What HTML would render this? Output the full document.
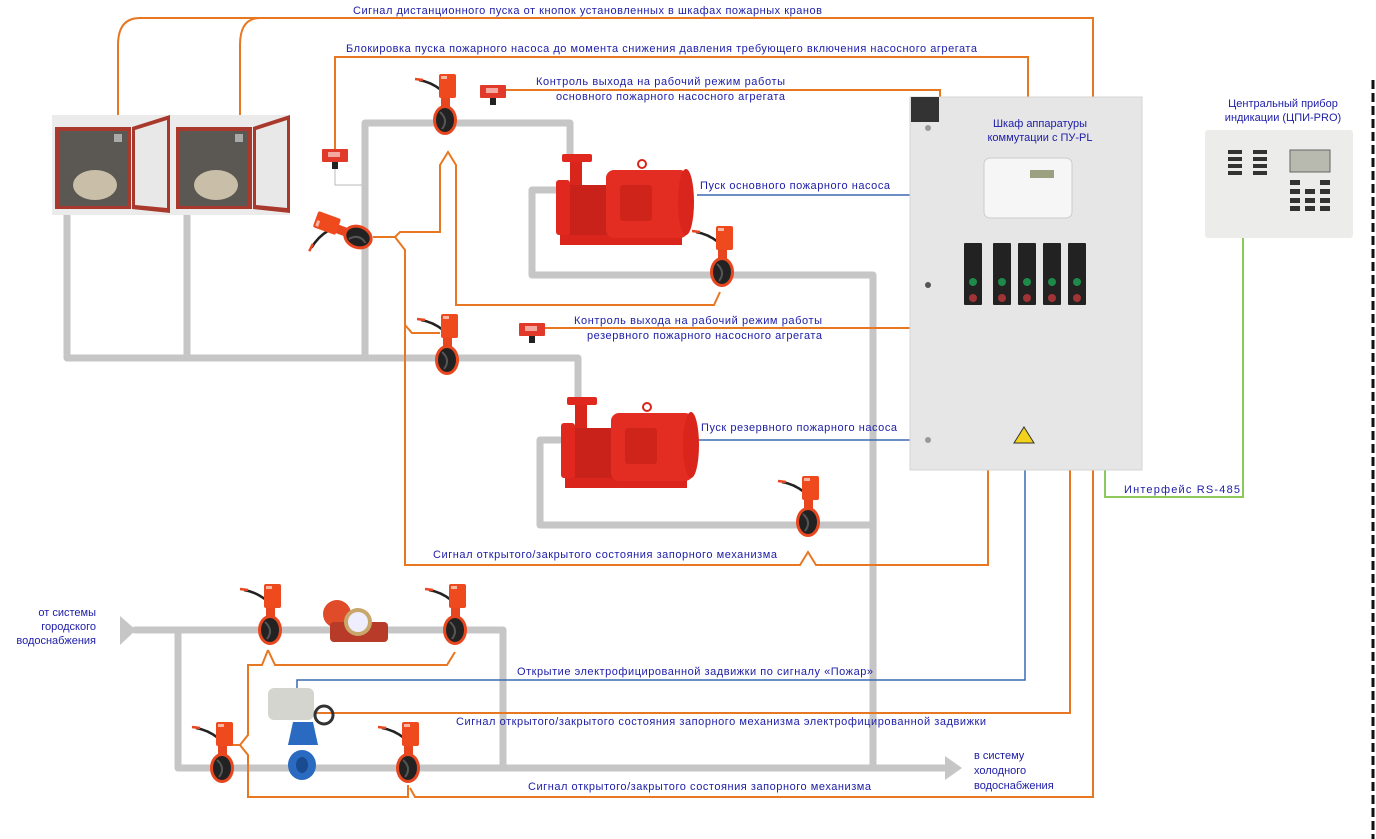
<!DOCTYPE html>
<html><head><meta charset="utf-8"><style>
html,body{margin:0;padding:0;background:#fff;}
svg{display:block;}
text{font-family:"Liberation Sans",sans-serif;font-size:11px;fill:#1c1ca8;}
</style></head><body>
<svg width="1376" height="839" viewBox="0 0 1376 839" xmlns="http://www.w3.org/2000/svg">
<defs>
<g id="v">
 <path d="M-4,-30 Q-14,-38 -26,-40" stroke="#222" stroke-width="2.5" fill="none"/>
 <path d="M-22,-40 L-30,-41" stroke="#e8461e" stroke-width="2.5"/>
 <rect x="-4" y="-24" width="9" height="12" fill="#e8461e"/>
 <rect x="-6" y="-46" width="17" height="24" rx="2" fill="#ee4a1e"/>
 <rect x="-4" y="-44" width="6" height="3" fill="#fff" opacity=".6"/>
 <ellipse cx="0" cy="0" rx="12" ry="15" fill="#e8461e"/>
 <ellipse cx="0" cy="0" rx="9" ry="12" fill="#222"/>
 <path d="M-5,-8 Q4,0 -3,9" stroke="#555" stroke-width="2" fill="none"/>
</g>
<g id="sens">
 <rect x="-13" y="-6" width="26" height="13" rx="1" fill="#e23a2a"/>
 <rect x="-7" y="-3" width="12" height="5" fill="#f4a8a0"/>
 <rect x="-3" y="7" width="6" height="7" fill="#222"/>
</g>
<g id="pump">
 <rect x="4" y="80" width="122" height="15" fill="#d9251b"/>
 <rect x="0" y="30" width="14" height="55" rx="3" fill="#e0281f"/>
 <rect x="14" y="10" width="12" height="30" fill="#d8261c"/>
 <rect x="6" y="4" width="30" height="8" rx="2" fill="#e0281f"/>
 <rect x="14" y="35" width="38" height="50" fill="#c9221a"/>
 <rect x="50" y="20" width="82" height="68" rx="8" fill="#e32c22"/>
 <ellipse cx="130" cy="52" rx="8" ry="33" fill="#d9251b"/>
 <rect x="64" y="35" width="32" height="36" rx="3" fill="#cf2419"/>
 <circle cx="86" cy="14" r="4" fill="none" stroke="#d9251b" stroke-width="2"/>
</g>
</defs>

<!-- gray pipes -->
<g stroke="#c6c6c6" stroke-width="7" fill="none" stroke-linejoin="round" stroke-linecap="round">
 <path d="M67,212 V358 H578 V398"/>
 <path d="M187,212 V358"/>
 <path d="M365,358 V123 H570 V158"/>
 <path d="M555,190 H532 V275 H873 V768"/>
 <path d="M560,440 H540 V525 H870"/>
 <path d="M135,630 H503 V768"/>
 <path d="M178,630 V768 H945"/>
</g>
<polygon points="945,756 962,768 945,780" fill="#c6c6c6"/>
<polygon points="120,616 136,630 120,645" fill="#c6c6c6"/>

<!-- orange lines -->
<g stroke="#e87722" stroke-width="2" fill="none">
 <path d="M118,135 V45 Q118,18 140,18 H1093 V797 H415 L410,788"/>
 <path d="M240,135 V45 Q240,18 260,18"/>
 <path d="M335,150 V57 H1028 V97"/>
 <path d="M506,90 H940 V97"/>
 <path d="M530,328 H910"/>
 <path d="M373,237 H395 L400,232 H440 V165 L448,152 L456,165 V305 H714 L720,292"/>
 <path d="M395,237 L405,250 V325 L412,333 H440"/>
 <path d="M405,325 L405,565 H800 L808,552 L816,565 H988 V470"/>
 <path d="M268,650 L275,665 H447 L455,652"/>
 <path d="M268,650 L262,665 H248 V735 L240,745 L248,755 V797 H408 V785"/>
 <path d="M240,745 L232,745"/>
 <path d="M300,713 H1070 V470"/>
</g>
<!-- blue lines -->
<g stroke="#3a68b0" stroke-width="1.5" fill="none">
 <path d="M697,195 H910"/>
 <path d="M697,440 H910"/>
 <path d="M297,688 V680 H1025 V470"/>
</g>
<!-- green -->
<path d="M1105,470 V497 H1243 V237" stroke="#8cc85a" stroke-width="2" fill="none"/>
<!-- gray thin sensor link -->
<path d="M335,168 V185 H362" stroke="#bbb" stroke-width="1" fill="none"/>

<!-- fire cabinets -->
<rect x="52" y="115" width="238" height="100" fill="#ebebeb"/>
<g>
 <rect x="55" y="127" width="76" height="82" fill="#a8392c"/>
 <rect x="59" y="131" width="68" height="75" fill="#5b5753"/>
 <ellipse cx="95" cy="185" rx="22" ry="15" fill="#c9bfa8"/>
 <rect x="114" y="134" width="8" height="8" fill="#aaa"/>
 <polygon points="132,127 170,115 170,213 132,209" fill="#a8392c"/>
 <polygon points="135,130 167,120 167,208 135,205" fill="#e8e8e8"/>
 <rect x="176" y="127" width="76" height="82" fill="#a8392c"/>
 <rect x="180" y="131" width="68" height="75" fill="#5b5753"/>
 <ellipse cx="216" cy="185" rx="22" ry="15" fill="#c9bfa8"/>
 <rect x="235" y="134" width="8" height="8" fill="#aaa"/>
 <polygon points="253,127 290,115 290,213 253,209" fill="#a8392c"/>
 <polygon points="256,130 287,120 287,208 256,205" fill="#e8e8e8"/>
</g>

<!-- sensors -->
<use href="#sens" x="335" y="155"/>
<use href="#sens" x="493" y="91"/>
<use href="#sens" x="532" y="329"/>

<!-- pumps -->
<use href="#pump" x="556" y="150"/>
<use href="#pump" x="561" y="393"/>

<!-- valves -->
<use href="#v" x="445" y="120"/>
<g transform="translate(358,237) rotate(-70)"><use href="#v"/></g>
<use href="#v" x="722" y="272"/>
<use href="#v" x="447" y="360"/>
<use href="#v" x="808" y="522"/>
<use href="#v" x="270" y="630"/>
<use href="#v" x="455" y="630"/>
<use href="#v" x="222" y="768"/>
<use href="#v" x="408" y="768"/>

<!-- water meter -->
<circle cx="337" cy="614" r="14" fill="#e04c2a"/>
<rect x="330" y="622" width="58" height="20" rx="4" fill="#b83a28"/>
<circle cx="358" cy="622" r="14" fill="#c9a66a"/>
<circle cx="358" cy="622" r="10" fill="#eef"/>
<!-- electric gate valve -->
<rect x="268" y="688" width="46" height="32" rx="6" fill="#d5d5d0"/>
<circle cx="324" cy="715" r="9" fill="none" stroke="#333" stroke-width="3"/>
<path d="M293,722 H313 L318,745 H288 Z" fill="#2a6ac0"/>
<ellipse cx="302" cy="765" rx="14" ry="15" fill="#2a6ac0"/>
<ellipse cx="302" cy="765" rx="6" ry="8" fill="#1a4a90"/>

<!-- control cabinet -->
<rect x="910" y="97" width="232" height="373" fill="#e6e6e6"/>
<rect x="910" y="97" width="232" height="373" fill="none" stroke="#d4d4d4"/>
<rect x="911" y="97" width="28" height="25" fill="#333"/>
<circle cx="928" cy="128" r="3" fill="#999"/>
<circle cx="928" cy="285" r="3" fill="#555"/>
<circle cx="928" cy="440" r="3" fill="#999"/>
<rect x="984" y="158" width="88" height="60" rx="6" fill="#f6f6f6" stroke="#ccc"/>
<rect x="1030" y="170" width="24" height="8" fill="#9aa080"/>
<g fill="#222">
 <rect x="964" y="243" width="18" height="62" rx="1"/>
 <rect x="993" y="243" width="18" height="62" rx="1"/>
 <rect x="1018" y="243" width="18" height="62" rx="1"/>
 <rect x="1043" y="243" width="18" height="62" rx="1"/>
 <rect x="1068" y="243" width="18" height="62" rx="1"/>
</g>
<g fill="#1e8a4a"><circle cx="973" cy="282" r="4"/><circle cx="1002" cy="282" r="4"/><circle cx="1027" cy="282" r="4"/><circle cx="1052" cy="282" r="4"/><circle cx="1077" cy="282" r="4"/></g>
<g fill="#a03434"><circle cx="973" cy="298" r="4"/><circle cx="1002" cy="298" r="4"/><circle cx="1027" cy="298" r="4"/><circle cx="1052" cy="298" r="4"/><circle cx="1077" cy="298" r="4"/></g>
<polygon points="1024,427 1034,443 1014,443" fill="#f2d21a" stroke="#333" stroke-width="1"/>

<!-- CPI device -->
<rect x="1205" y="130" width="148" height="108" rx="3" fill="#ececea"/>
<rect x="1290" y="150" width="40" height="22" fill="#b8bab0" stroke="#666"/>
<g fill="#333">
 <rect x="1228" y="150" width="14" height="4"/><rect x="1228" y="157" width="14" height="4"/><rect x="1228" y="164" width="14" height="4"/><rect x="1228" y="171" width="14" height="4"/>
 <rect x="1253" y="150" width="14" height="4"/><rect x="1253" y="157" width="14" height="4"/><rect x="1253" y="164" width="14" height="4"/><rect x="1253" y="171" width="14" height="4"/>
 <rect x="1290" y="180" width="10" height="5"/><rect x="1320" y="180" width="10" height="5"/>
 <rect x="1290" y="189" width="10" height="5"/><rect x="1305" y="189" width="10" height="5"/><rect x="1320" y="189" width="10" height="5"/>
 <rect x="1290" y="198" width="10" height="5"/><rect x="1305" y="198" width="10" height="5"/><rect x="1320" y="198" width="10" height="5"/>
 <rect x="1290" y="206" width="10" height="5"/><rect x="1305" y="206" width="10" height="5"/><rect x="1320" y="206" width="10" height="5"/>
</g>
<!-- right dashed -->
<path d="M1373,80 V839" stroke="#111" stroke-width="3" stroke-dasharray="9,4"/>

<!-- texts -->
<text x="353" y="14" textLength="469">Сигнал дистанционного пуска от кнопок установленных в шкафах пожарных кранов</text>
<text x="346" y="52" textLength="631">Блокировка пуска пожарного насоса до момента снижения давления требующего включения насосного агрегата</text>
<text x="536" y="85" textLength="249">Контроль выхода на рабочий режим работы</text>
<text x="556" y="100" textLength="229">основного пожарного насосного агрегата</text>
<text x="700" y="189" textLength="190">Пуск основного пожарного насоса</text>
<text x="574" y="324" textLength="248">Контроль выхода на рабочий режим работы</text>
<text x="587" y="339" textLength="235">резервного пожарного насосного агрегата</text>
<text x="701" y="431" textLength="196">Пуск резервного пожарного насоса</text>
<text x="433" y="558" textLength="344">Сигнал открытого/закрытого состояния запорного механизма</text>
<text x="96" y="616" text-anchor="end">от системы</text>
<text x="96" y="630" text-anchor="end">городского</text>
<text x="96" y="644" text-anchor="end">водоснабжения</text>
<text x="517" y="675" textLength="356">Открытие электрофицированной задвижки по сигналу «Пожар»</text>
<text x="456" y="725" textLength="530">Сигнал открытого/закрытого состояния запорного механизма электрофицированной задвижки</text>
<text x="528" y="790" textLength="343">Сигнал открытого/закрытого состояния запорного механизма</text>
<text x="974" y="759">в систему</text>
<text x="974" y="774">холодного</text>
<text x="974" y="789">водоснабжения</text>
<text x="1040" y="127" text-anchor="middle">Шкаф аппаратуры</text>
<text x="1040" y="141" text-anchor="middle">коммутации с ПУ-PL</text>
<text x="1283" y="107" text-anchor="middle">Центральный прибор</text>
<text x="1283" y="121" text-anchor="middle">индикации (ЦПИ-PRO)</text>
<text x="1124" y="493" textLength="116">Интерфейс RS-485</text>
</svg>
</body></html>
